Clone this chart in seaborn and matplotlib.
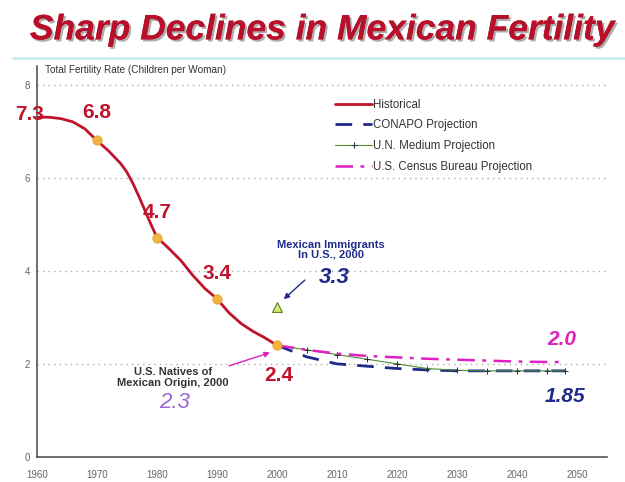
import matplotlib
matplotlib.use("Agg")
import matplotlib.pyplot as plt
import matplotlib.patheffects as pe
from matplotlib.lines import Line2D
import seaborn as sns

# Historical total fertility rate, Mexico
hist_years = [1960, 1962, 1964, 1966, 1968, 1970, 1972, 1974, 1975, 1976, 1977, 1978, 1979, 1980,
              1982, 1984, 1986, 1988, 1990, 1992, 1994, 1996, 1998, 2000]
hist_tfr = [7.3, 7.3, 7.27, 7.2, 7.05, 6.8, 6.57, 6.3, 6.12, 5.88, 5.6, 5.3, 5.0, 4.72,
            4.48, 4.22, 3.9, 3.62, 3.4, 3.1, 2.87, 2.7, 2.56, 2.4]

# Labelled points on the historical line
point_years = [1970, 1980, 1990, 2000]
point_tfr = [6.8, 4.7, 3.4, 2.4]

# Projections
proj_years = [2000, 2005, 2010, 2015, 2020, 2025, 2030, 2035, 2040, 2045, 2048]
conapo = [2.4, 2.15, 2.0, 1.95, 1.9, 1.87, 1.85, 1.85, 1.85, 1.85, 1.85]
un_medium = [2.4, 2.3, 2.2, 2.1, 2.0, 1.9, 1.86, 1.85, 1.85, 1.85, 1.85]
census = [2.4, 2.3, 2.22, 2.17, 2.14, 2.11, 2.09, 2.07, 2.05, 2.04, 2.04]

# Mexican immigrants in the U.S., 2000
immig_year = [2000]
immig_tfr = [3.22]

sns.set_style("white")
plt.rcParams["font.family"] = ["Liberation Sans", "DejaVu Sans"]

fig = plt.figure(figsize=(6.25, 4.82), dpi=100)
ax = fig.add_axes([0.059, 0.052, 0.912, 0.811])

red = "#c0142c"
navy = "#1f2a8a"
green = "#4f8a3a"
pink = "#e020c0"

sns.lineplot(x=hist_years, y=hist_tfr, ax=ax, color=red, linewidth=2, label="Historical")
sns.lineplot(x=proj_years, y=conapo, ax=ax, color=navy, linewidth=2,
             linestyle=(0, (6, 4)), label="CONAPO Projection")
sns.lineplot(x=proj_years, y=un_medium, ax=ax, color=green, linewidth=0.8,
             marker="+", markersize=4, markeredgecolor="#333333", label="U.N. Medium Projection")
sns.lineplot(x=proj_years, y=census, ax=ax, color=pink, linewidth=1.8,
             linestyle=(0, (7, 3, 1.5, 3)), label="U.S. Census Bureau Projection")
sns.scatterplot(x=point_years, y=point_tfr, ax=ax, color="#f3b23c", s=45,
                edgecolor="#e0a030", zorder=5, legend=False)
sns.scatterplot(x=immig_year, y=immig_tfr, ax=ax, marker="^", color="#d8ec7a", s=50,
                edgecolor="#5a7a20", linewidth=0.8, zorder=5, legend=False)

ax.set_xlim(1960, 2055)
ax.set_ylim(0, 8.4)
ax.set_xticks(range(1960, 2051, 10))
ax.set_xticks(range(1960, 2056, 5), minor=True)
ax.set_yticks([0, 2, 4, 6, 8])
ax.tick_params(axis="both", labelsize=7, colors="#666666", length=3, direction="inout")
ax.tick_params(axis="x", which="minor", length=3, direction="inout", color="#666666")
ax.tick_params(axis="x", pad=8)
ax.yaxis.grid(True, linestyle=(0, (1, 3)), color="#aaaaaa", linewidth=1)
for s in ["top", "right"]:
    ax.spines[s].set_visible(False)
for s in ["left", "bottom"]:
    ax.spines[s].set_color("#555555")
    ax.spines[s].set_linewidth(1.2)
ax.set_xlabel("")
ax.set_ylabel("")

ax.text(1961.3, 8.32, "Total Fertility Rate (Children per Woman)", fontsize=7.2,
        color="#333333", va="center", clip_on=False)

leg = ax.legend(loc="upper left", bbox_to_anchor=(0.505, 0.943), frameon=False,
                fontsize=8.3, handlelength=3.2, labelspacing=0.75, handletextpad=0.1)
for t in leg.get_texts():
    t.set_color("#333333")

# value labels
lbl = dict(color=red, fontsize=15, fontweight="bold", ha="center", va="center")
ax.text(1958.8, 7.35, "7.3", clip_on=False, **lbl)
ax.text(1970, 7.4, "6.8", **lbl)
ax.text(1980, 5.25, "4.7", **lbl)
ax.text(1990, 3.95, "3.4", **lbl)
ax.text(2000.3, 1.76, "2.4", **lbl)

ax.text(2009, 4.45, "Mexican Immigrants\nIn U.S., 2000", fontsize=8, color=navy,
        fontweight="bold", ha="center", va="center", linespacing=1.0)
ax.text(2009.6, 3.85, "3.3", fontsize=16, color=navy, fontweight="bold",
        style="italic", ha="center", va="center")
ax.annotate("", xy=(2000.8, 3.35), xytext=(2005.0, 3.84),
            arrowprops=dict(arrowstyle="-|>", color=navy, lw=1, mutation_scale=8))

ax.text(1982.7, 1.7, "U.S. Natives of\nMexican Origin, 2000", fontsize=8, color="#333333",
        fontweight="bold", ha="center", va="center", linespacing=1.15)
ax.text(1982.9, 1.16, "2.3", fontsize=16, color="#9a66d6", style="italic",
        ha="center", va="center")
ax.annotate("", xy=(1999.3, 2.26), xytext=(1991.6, 1.94),
            arrowprops=dict(arrowstyle="-|>", color=pink, lw=1, mutation_scale=8))

ax.text(2047.5, 2.52, "2.0", fontsize=15, color=pink, fontweight="bold",
        style="italic", ha="center", va="center")
ax.text(2048, 1.29, "1.85", fontsize=15, color=navy, fontweight="bold",
        style="italic", ha="center", va="center")

# title and separator
fig.text(0.515, 0.938, "Sharp Declines in Mexican Fertility", fontsize=25.5,
         color="#b8102a", fontweight="bold", style="italic", ha="center", va="center",
         path_effects=[pe.withSimplePatchShadow(offset=(1.5, -1.5), shadow_rgbFace="#777777", alpha=0.6),
                       pe.Normal()])
fig.add_artist(Line2D([0.02, 1.0], [0.88, 0.88], color="#c8ecee", linewidth=2))

fig.savefig("out.png", dpi=100)
